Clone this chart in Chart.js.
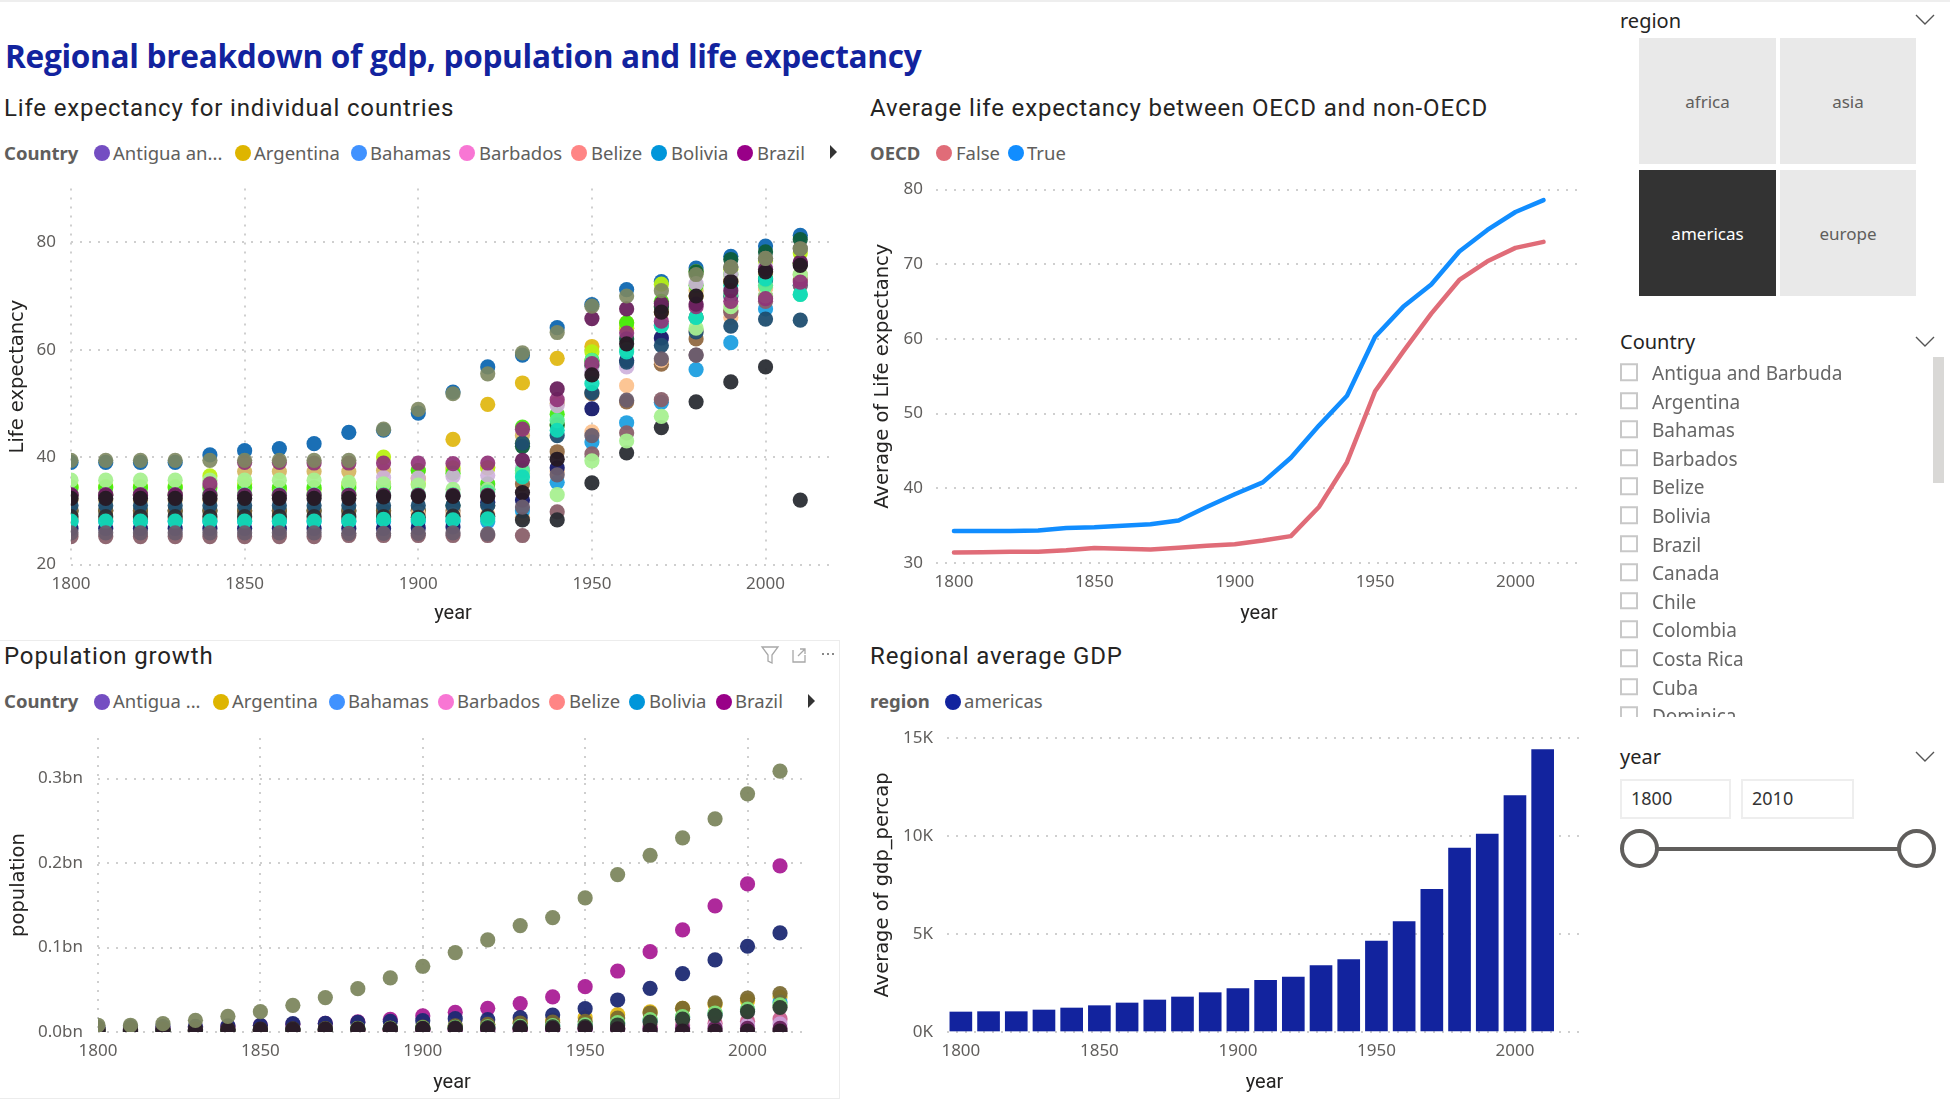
<!DOCTYPE html>
<html lang="en">
<head>
<meta charset="UTF-8">
<title>Regional breakdown</title>
<script src="https://cdn.jsdelivr.net/npm/chart.js"></script>
<style>
  html, body { margin: 0; padding: 0; background: #fff; width: 1950px; height: 1099px; overflow: hidden; }
  .t { position: absolute; white-space: nowrap; transform: translateY(-50%); line-height: 1; }
  .main { font: bold 31.6px "Open Sans"; color: #12239E; letter-spacing: -0.3px; }
  .head { font: 24px Roboto; color: #252423; letter-spacing: 0.85px; }
  .leg { font: 18.5px "Noto Sans"; color: #605E5C; }
  .legb { font: bold 18.5px "Noto Sans"; color: #605E5C; }
  .dot { position: absolute; width: 16px; height: 16px; border-radius: 50%; transform: translate(-50%,-50%); }
  .arrow { position: absolute; width: 0; height: 0; border-left: 7px solid #333; border-top: 7px solid transparent; border-bottom: 7px solid transparent; transform: translateY(-50%); }
  .side { font: 20px "Noto Sans"; color: #252423; }
  .tile { position: absolute; background: #E9E9E9; color: #605E5C; font: 17px "Noto Sans"; display: flex; align-items: center; justify-content: center; }
  .tile.on { background: #333; color: #fff; }
  .cb { position: absolute; left: 1620px; width: 13.5px; height: 13.5px; border: 2.6px solid #c8c8c8; transform: translateY(-50%); }
  .item { font: 19px "Noto Sans"; color: #666; left: 1652px; }
  .box { position: absolute; border: 2px solid #eee; box-sizing: border-box; top: 779px; height: 40px; font: 18px "Noto Sans"; color: #333; line-height: 34px; padding-left: 9px; }
  .knob { position: absolute; top: 829px; width: 39px; height: 39px; box-sizing: border-box; border: 4px solid #605E5C; border-radius: 50%; background: #fff; }
  canvas { position: absolute; }
</style>
</head>
<body>
<div style="position:absolute;left:0;top:0;width:1950px;height:2px;background:#eee"></div>
<div class="t main" style="left:5px;top:55px">Regional breakdown of gdp, population and life expectancy</div>

<div class="t head" style="left:4px;top:108px">Life expectancy for individual countries</div>
<div class="t head" style="left:870px;top:108px">Average life expectancy between OECD and non-OECD</div>
<div class="t head" style="left:4px;top:656px">Population growth</div>
<div class="t head" style="left:870px;top:656px">Regional average GDP</div>

<div class="t legb" style="left:4px;top:152px">Country</div>
<span class="dot" style="left:102px;top:153px;background:#744EC2"></span><div class="t leg" style="left:113px;top:152px">Antigua an...</div>
<span class="dot" style="left:243px;top:153px;background:#DEB500"></span><div class="t leg" style="left:254px;top:152px">Argentina</div>
<span class="dot" style="left:359px;top:153px;background:#4092FF"></span><div class="t leg" style="left:370px;top:152px">Bahamas</div>
<span class="dot" style="left:467px;top:153px;background:#F876D4"></span><div class="t leg" style="left:479px;top:152px">Barbados</div>
<span class="dot" style="left:579px;top:153px;background:#FF8585"></span><div class="t leg" style="left:591px;top:152px">Belize</div>
<span class="dot" style="left:659px;top:153px;background:#0096DA"></span><div class="t leg" style="left:671px;top:152px">Bolivia</div>
<span class="dot" style="left:745px;top:153px;background:#990088"></span><div class="t leg" style="left:757px;top:152px">Brazil</div>
<span class="arrow" style="left:830px;top:152px"></span>

<div class="t legb" style="left:870px;top:152px">OECD</div>
<span class="dot" style="left:944px;top:153px;background:#E06C78"></span><div class="t leg" style="left:956px;top:152px">False</div>
<span class="dot" style="left:1016px;top:153px;background:#118DFF"></span><div class="t leg" style="left:1027px;top:152px">True</div>

<div class="t legb" style="left:4px;top:700px">Country</div>
<span class="dot" style="left:102px;top:702px;background:#744EC2"></span><div class="t leg" style="left:113px;top:700px">Antigua ...</div>
<span class="dot" style="left:221px;top:702px;background:#DEB500"></span><div class="t leg" style="left:232px;top:700px">Argentina</div>
<span class="dot" style="left:337px;top:702px;background:#4092FF"></span><div class="t leg" style="left:348px;top:700px">Bahamas</div>
<span class="dot" style="left:446px;top:702px;background:#F876D4"></span><div class="t leg" style="left:457px;top:700px">Barbados</div>
<span class="dot" style="left:557px;top:702px;background:#FF8585"></span><div class="t leg" style="left:569px;top:700px">Belize</div>
<span class="dot" style="left:637px;top:702px;background:#0096DA"></span><div class="t leg" style="left:649px;top:700px">Bolivia</div>
<span class="dot" style="left:724px;top:702px;background:#990088"></span><div class="t leg" style="left:735px;top:700px">Brazil</div>
<span class="arrow" style="left:808px;top:701px"></span>

<div class="t legb" style="left:870px;top:700px">region</div>
<span class="dot" style="left:953px;top:702px;background:#12239E"></span><div class="t leg" style="left:964px;top:700px">americas</div>

<!-- frame round the population visual, with its hover icons -->
<div style="position:absolute;left:-2px;top:640px;width:840px;height:457px;border:1.5px solid #ececec"></div>
<svg style="position:absolute;left:760px;top:644px" width="80" height="22" fill="none" stroke="#a8a8a8" stroke-width="1.3">
  <path d="M2 3H18L12 11V19L8 17V11Z"/>
  <path d="M33 6V18H45V11M38 12L45 5M40 5H45V10"/>
  <path d="M62 10h2M67 10h2M72 10h2" stroke="#888" stroke-width="2"/>
</svg>

<canvas id="chartLife" width="860" height="476" style="left:6px;top:150px"></canvas>
<canvas id="chartOecd" width="720" height="476" style="left:871px;top:150px"></canvas>
<canvas id="chartPop" width="830" height="393" style="left:7px;top:702px"></canvas>
<canvas id="chartGdp" width="720" height="393" style="left:871px;top:702px"></canvas>

<!-- slicers -->
<div class="t side" style="left:1620px;top:20px">region</div>
<svg style="position:absolute;left:1915px;top:13px" width="20" height="14" fill="none" stroke="#555" stroke-width="1.4"><path d="M1 2L10 11L19 2"/></svg>
<div class="tile" style="left:1639px;top:38px;width:137px;height:126px">africa</div>
<div class="tile" style="left:1780px;top:38px;width:136px;height:126px">asia</div>
<div class="tile on" style="left:1639px;top:170px;width:137px;height:126px">americas</div>
<div class="tile" style="left:1780px;top:170px;width:136px;height:126px">europe</div>

<div class="t side" style="left:1620px;top:341px">Country</div>
<svg style="position:absolute;left:1915px;top:335px" width="20" height="14" fill="none" stroke="#555" stroke-width="1.4"><path d="M1 2L10 11L19 2"/></svg>
<div style="position:absolute;left:1933px;top:357px;width:11px;height:126px;background:#d9d8d6"></div>
<div id="countryList" style="position:absolute;left:0;top:0;width:1930px;height:717px;overflow:hidden"></div>

<div class="t side" style="left:1620px;top:756px">year</div>
<svg style="position:absolute;left:1915px;top:750px" width="20" height="14" fill="none" stroke="#555" stroke-width="1.4"><path d="M1 2L10 11L19 2"/></svg>
<div class="box" style="left:1620px;width:111px">1800</div>
<div class="box" style="left:1741px;width:113px">2010</div>
<div style="position:absolute;left:1640px;top:847px;width:276px;height:4px;background:#605E5C"></div>
<div class="knob" style="left:1620px"></div>
<div class="knob" style="left:1897px"></div>

<script>
const years = [1800,1810,1820,1830,1840,1850,1860,1870,1880,1890,1900,1910,1920,1930,1940,1950,1960,1970,1980,1990,2000,2010];
const xTicks = [1800,1850,1900,1950,2000];
const lifeTicks = [20,40,60,80];
const oecdTicks = [30,40,50,60,70,80];
const popTicks = [0,0.1,0.2,0.3];
const gdpTicks = [0,5000,10000,15000];
const sliceCountries = ["Antigua and Barbuda","Argentina","Bahamas","Barbados","Belize","Bolivia","Brazil","Canada","Chile","Colombia","Costa Rica","Cuba","Dominica"];

// life expectancy per country
const lifeCanada  = [39,39,39,39,40.4,41.2,41.6,42.5,44.6,45,48.2,52.1,56.8,59,64.1,68.4,71.2,72.7,75.2,77.4,79.3,81.3];
const lifeArg     = [33,33,33,33,33,33,33,33,33,35,36,43.3,49.8,53.8,58.4,60.6,65,67,70,72.5,74.5,76];
const lifeUruguay = [32,32,32,32,32,37.3,37.3,37.3,37.3,37.5,37.5,37.5,38,44,50,58,64,68,71,73,71.5,76];
const lifeCuba    = [34.5,34.5,34.5,34.5,36.5,35,34,34,35,40,35,38,38,42.5,46,59.6,64,72.2,74.5,75,76.5,78];
const lifeLime    = [34.3,34.3,34.3,34.3,34.3,34.3,34.3,34.3,34.3,34.5,37.5,37,35,45.6,48,58,65,69,72,74,73.2,76];
const lifeCosta   = [30,30,30,30,30,30,30,30,30,30,30,31,34,42,46,57,62,68,74.5,76.8,78.2,80.5];
const lifeLilac   = [33,33,33,33,33,33,33,33,33,36.2,36.1,36.4,36.6,38,49.6,56,56.8,62,72.3,74,75.5,73.9];
const lifeBrown   = [30,30,30,30,30,30,30,30,30,30,30,30,31,35,41,51.8,50.3,57.3,62,67.3,70,73];
const lifeOrange  = [28.5,28.5,28.5,28.5,28.5,28.5,28.5,28.5,28.5,28.7,29.5,29.3,29.4,28.8,37.3,44.7,53.3,58,63.5,66,71.5,74];
const lifeCyan    = [28,28,28,28,28,28,28,28,28,28,28,28,28,30,35.3,42.8,46.4,50.2,56.3,61.3,67.6,72];
const lifeRose    = [25.2,25.2,25.2,25.2,25.2,25.2,25.2,25.2,25.4,25.4,25.4,25.4,25.4,25.4,29.8,40.6,44.5,50.7,59,67,69,72];
const lifeNavy    = [26.7,26.7,26.7,26.7,26.7,26.7,26.7,26.7,26.7,26.7,26.8,27,31.6,32,38,49,58,62.2,66,70,73,76];
const lifeSlate   = [31,31,31,31,31,31,31,31,31,31,31,31,31,42.6,44,52,57.7,60.8,63.3,64.4,65.7,65.5];
const lifeHaiti   = [28.9,28.9,28.9,28.9,28.9,28.9,28.9,28.9,28.9,28.9,28.8,29,29,28.3,28.3,35.2,40.8,45.5,50.3,54,56.8,32];
const lifeLtGreen = [35.7,35.7,35.7,35.7,35.7,35.7,35.7,35.7,35.3,35,34.8,34,34,37,33,39.3,43,47.6,64,68,70,74];
const lifeSpring  = [33,33,33,33,33,33,33,33,33,33,33,33,33.5,37.5,46.8,58,60,64.5,66,70.4,72,70.3];
const lifeTeal    = [28.1,28.1,28.1,28.1,28.1,28.1,28.1,28.1,28.1,28.4,28.4,28.3,28.5,36.3,45,53.7,59.6,64.5,66,72,73.2,70.3];
const lifeMagenta = [33,33,33,33,35,39,39,38.9,38.9,38.9,38.9,38.8,38.9,45.2,50.7,57.4,63.1,65.3,68,69,69.5,72.6];
const lifePurple  = [32.9,32.9,32.9,32.9,32.9,32.9,32.9,32.9,32.9,32.9,32.9,32.9,32.9,39.4,52.7,65.8,67.6,68.6,68.5,71,75,76.3];
const lifeBlack   = [32.3,32.3,32.3,32.3,32.3,32.3,32.3,32.3,32.3,32.6,32.7,32.7,32.7,33.4,39.6,55.3,61.1,67,70,72.7,74.5,75.7];
const lifeGray    = [25.9,25.9,25.9,25.9,25.9,25.9,25.9,25.9,25.8,25.8,25.8,25.9,25.7,30.7,36.7,44,50.6,58.3,59,75.4,77,78.8];
const lifeUsa     = [39.4,39.4,39.4,39.4,39.4,39.4,39.4,39.4,39.4,45.2,48.9,51.8,55.5,59.4,63.2,68.1,70,71,74,75.4,77,78.8];

// average life expectancy, OECD split
const oecdFalse = [31.4,31.45,31.5,31.5,31.7,32,31.9,31.8,32.05,32.3,32.5,33,33.6,37.5,43.5,53,58.3,63.4,67.9,70.4,72.2,73];
const oecdTrue  = [34.3,34.3,34.3,34.35,34.7,34.8,35,35.2,35.7,37.5,39.2,40.8,44.1,48.4,52.4,60.3,64.3,67.3,71.7,74.6,77,78.6];

// population in billions
const popUsa    = [0.008,0.008,0.0099,0.0138,0.0186,0.024,0.0316,0.0407,0.0513,0.064,0.0778,0.094,0.109,0.126,0.1354,0.1587,0.1863,0.2092,0.2298,0.2523,0.2819,0.3087];
const popBrazil = [0.0033,0.0039,0.0047,0.0055,0.0065,0.0077,0.0092,0.0101,0.0121,0.015,0.019,0.0233,0.028,0.0336,0.0415,0.0537,0.0722,0.0951,0.1208,0.1492,0.1753,0.1966];
const popMexico = [0.0055,0.006,0.0065,0.0068,0.0072,0.0079,0.0099,0.0103,0.0114,0.0126,0.0134,0.0158,0.0146,0.017,0.02,0.0276,0.0379,0.0517,0.0691,0.0853,0.1015,0.1173];
const popArg    = [0.0005,0.0006,0.0007,0.0009,0.0011,0.0013,0.0016,0.0018,0.0025,0.0033,0.0047,0.0067,0.009,0.0119,0.0141,0.017,0.0205,0.0238,0.028,0.0325,0.037,0.0413];
const popColomb = [0.0016,0.0018,0.0021,0.0024,0.0027,0.003,0.0034,0.0039,0.0043,0.0047,0.0059,0.0073,0.0091,0.0104,0.0116,0.0125,0.0165,0.0225,0.028,0.0345,0.04,0.0455];
const popPeru   = [0.0013,0.0015,0.0016,0.0018,0.002,0.0023,0.0026,0.003,0.0034,0.004,0.0045,0.0052,0.006,0.0066,0.0075,0.0085,0.0105,0.0135,0.0175,0.0215,0.0262,0.0355];
const popGreen  = [0.0015,0.0016,0.0018,0.002,0.0023,0.0026,0.003,0.0034,0.0039,0.0044,0.005,0.0056,0.0062,0.0068,0.0075,0.0085,0.0112,0.0147,0.0182,0.0225,0.0272,0.032];
const popDark   = [0.0012,0.0014,0.0016,0.0018,0.002,0.0023,0.0026,0.003,0.0034,0.0037,0.0042,0.0048,0.0052,0.0056,0.0062,0.0065,0.0083,0.0117,0.0152,0.0195,0.024,0.029];
const popPink   = [0.0008,0.0008,0.0009,0.0011,0.0012,0.0014,0.0016,0.0018,0.002,0.0022,0.0025,0.0028,0.0031,0.0034,0.0038,0.0042,0.0052,0.0065,0.0082,0.0105,0.0128,0.0155];
const popLilac  = [0.0004,0.0004,0.0005,0.0005,0.0006,0.0007,0.0008,0.0009,0.001,0.0012,0.0013,0.0015,0.0017,0.0019,0.0022,0.0027,0.0035,0.0044,0.0055,0.0068,0.0082,0.0095];
const popPlum   = [0.002,0.002,0.002,0.0022,0.0024,0.0025,0.0026,0.0028,0.003,0.0032,0.0034,0.0036,0.0038,0.004,0.0042,0.0045,0.0042,0.0042,0.0042,0.0042,0.0042,0.0042];
const popBlack  = [0.0033,0.0033,0.0033,0.0034,0.0034,0.0035,0.0036,0.0036,0.0037,0.0038,0.0039,0.004,0.0041,0.0043,0.0044,0.0046,0.0038,0.002,0.001,0.001,0.001,0.001];

// regional average gdp per capita
const gdpAvg = [1020,1037,1037,1122,1224,1343,1480,1633,1786,2007,2211,2636,2806,3384,3690,4643,5629,7279,9388,10102,12058,14405];

const fontTick = { family: "Noto Sans", size: 17 };
const fontYear = { family: "Roboto", size: 20 };
const fontSide = { family: "DejaVu Sans", size: 19.5 };
const gridDots = { color: "#cfcfcf", lineWidth: 2, drawTicks: false };

function pairs(values) {
  return values.map(function (v, i) { return { x: years[i], y: v }; });
}

function scatterSet(name, values, color) {
  return { label: name, data: pairs(values), backgroundColor: color, borderWidth: 0, pointRadius: 7.6, clip: 0 };
}

// axis sizes are forced so the plot area lands at the same pixels as the reference
function scales(o) {
  return {
    x: {
      type: "linear", min: o.xMin, max: o.xMax, offset: false,
      grid: Object.assign({ display: o.xGrid, offset: false }, gridDots),
      border: { display: false, dash: [2, 7] },
      afterBuildTicks: function (s) { s.ticks = xTicks.map(function (v) { return { value: v }; }); },
      afterFit: function (s) { s.height = o.axisH; },
      ticks: { font: fontTick, color: "#605E5C", padding: 9, maxRotation: 0, callback: function (v) { return String(v); } },
      title: { display: true, text: "year", font: fontYear, color: "#252423", padding: 0 }
    },
    y: {
      min: o.yMin, max: o.yMax,
      grid: gridDots,
      border: { display: false, dash: [2, 7] },
      afterBuildTicks: function (s) { s.ticks = o.yTicks.map(function (v) { return { value: v }; }); },
      afterFit: function (s) { s.width = o.axisW; },
      ticks: { font: fontTick, color: "#605E5C", padding: o.tickPad, callback: o.fmt },
      title: { display: true, text: o.yTitle, font: fontSide, color: "#252423", padding: 0 }
    }
  };
}

function baseOptions(o) {
  return {
    responsive: false, animation: false,
    layout: { autoPadding: false, padding: { top: o.padTop, right: o.padRight } },
    plugins: { legend: { display: false }, tooltip: { enabled: false } },
    scales: scales(o)
  };
}

// chart.js paints the first dataset last, so the lists below go bottom layer first and get reversed
new Chart(document.getElementById("chartLife"), {
  type: "scatter",
  data: { datasets: [
    scatterSet("Canada", lifeCanada, "#1a6fb5"),
    scatterSet("Argentina", lifeArg, "rgba(224,184,20,0.95)"),
    scatterSet("Uruguay", lifeUruguay, "rgba(211,180,92,0.9)"),
    scatterSet("Cuba", lifeCuba, "rgba(184,240,20,0.95)"),
    scatterSet("Panama", lifeLime, "rgba(70,235,15,0.95)"),
    scatterSet("Costa Rica", lifeCosta, "rgba(13,92,58,0.95)"),
    scatterSet("Paraguay", lifeLilac, "rgba(205,176,220,0.9)"),
    scatterSet("Chile", lifeBrown, "rgba(140,98,56,0.9)"),
    scatterSet("Ecuador", lifeOrange, "rgba(252,194,142,0.95)"),
    scatterSet("Bolivia", lifeCyan, "rgba(30,159,224,0.95)"),
    scatterSet("Honduras", lifeRose, "rgba(138,96,106,0.95)"),
    scatterSet("Mexico", lifeNavy, "rgba(22,26,108,0.95)"),
    scatterSet("Dominican Republic", lifeSlate, "rgba(31,78,112,0.95)"),
    scatterSet("Haiti", lifeHaiti, "rgba(42,45,52,0.95)"),
    scatterSet("Nicaragua", lifeLtGreen, "rgba(168,240,144,0.95)"),
    scatterSet("Jamaica", lifeSpring, "rgba(87,236,148,0.95)"),
    scatterSet("Guatemala", lifeTeal, "rgba(18,219,184,0.95)"),
    scatterSet("Brazil", lifeMagenta, "rgba(145,50,120,0.92)"),
    scatterSet("Peru", lifePurple, "rgba(105,33,93,0.95)"),
    scatterSet("Venezuela", lifeBlack, "rgba(38,26,36,0.97)"),
    scatterSet("Colombia", lifeGray, "rgba(108,94,110,0.95)"),
    scatterSet("United States", lifeUsa, "rgba(125,135,95,0.9)")
  ].reverse() },
  options: baseOptions({ xMin: 1800, xMax: 2020, yMin: 20, yMax: 90, xGrid: true, axisW: 65, axisH: 61.5, tickPad: 15, yTicks: lifeTicks, yTitle: "Life expectancy", padTop: 38.6, padRight: 31, fmt: function (v) { return String(v); } })
});

new Chart(document.getElementById("chartOecd"), {
  type: "line",
  data: { datasets: [
    { label: "False", data: pairs(oecdFalse), borderColor: "#E06C78", borderWidth: 4.5, pointRadius: 0, tension: 0, borderJoinStyle: "round", borderCapStyle: "round" },
    { label: "True", data: pairs(oecdTrue), borderColor: "#118DFF", borderWidth: 4.5, pointRadius: 0, tension: 0, borderJoinStyle: "round", borderCapStyle: "round" }
  ] },
  options: baseOptions({ xMin: 1793.6, xMax: 2023.7, yMin: 30, yMax: 80, xGrid: false, axisW: 65, axisH: 63, tickPad: 13, yTicks: oecdTicks, yTitle: "Average of Life expectancy", padTop: 39.6, padRight: 9, fmt: function (v) { return String(v); } })
});

new Chart(document.getElementById("chartPop"), {
  type: "scatter",
  data: { datasets: [
    scatterSet("Argentina", popArg, "rgba(224,184,20,0.95)"),
    scatterSet("Peru", popPeru, "rgba(30,159,224,0.95)"),
    scatterSet("Brazil", popBrazil, "rgba(170,30,150,0.95)"),
    scatterSet("Mexico", popMexico, "rgba(30,42,115,0.95)"),
    scatterSet("Colombia", popColomb, "rgba(120,104,48,0.92)"),
    scatterSet("Guatemala", popPink, "rgba(200,90,140,0.9)"),
    scatterSet("Paraguay", popLilac, "rgba(205,160,220,0.9)"),
    scatterSet("Jamaica", popPlum, "rgba(105,33,93,0.95)"),
    scatterSet("Chile", popGreen, "rgba(130,225,120,0.95)"),
    scatterSet("Venezuela", popDark, "rgba(45,60,50,0.95)"),
    scatterSet("Haiti", popBlack, "rgba(42,26,40,0.95)"),
    scatterSet("United States", popUsa, "rgba(125,135,95,0.95)")
  ].reverse() },
  options: baseOptions({ xMin: 1800, xMax: 2018, yMin: 0, yMax: 0.348, xGrid: true, axisW: 91, axisH: 63, tickPad: 15, yTicks: popTicks, yTitle: "population", padTop: 36, padRight: 31, fmt: function (v) { return v.toFixed(1) + "bn"; } })
});

new Chart(document.getElementById("chartGdp"), {
  type: "bar",
  data: { datasets: [
    { label: "americas", data: pairs(gdpAvg), backgroundColor: "#12239E", barThickness: 22 }
  ] },
  options: baseOptions({ xMin: 1795, xMax: 2024.2, yMin: 0, yMax: 15000, xGrid: false, axisW: 76, axisH: 63, tickPad: 14, yTicks: gdpTicks, yTitle: "Average of gdp_percap", padTop: 36, padRight: 9, fmt: function (v) { return (v / 1000) + "K"; } })
});

// country slicer list
var list = document.getElementById("countryList");
sliceCountries.forEach(function (name, i) {
  var y = 372 + i * 28.6;
  list.innerHTML += '<div class="cb" style="top:' + y + 'px"></div><div class="t item" style="top:' + (y + 1) + 'px">' + name + '</div>';
});
</script>
</body>
</html>
